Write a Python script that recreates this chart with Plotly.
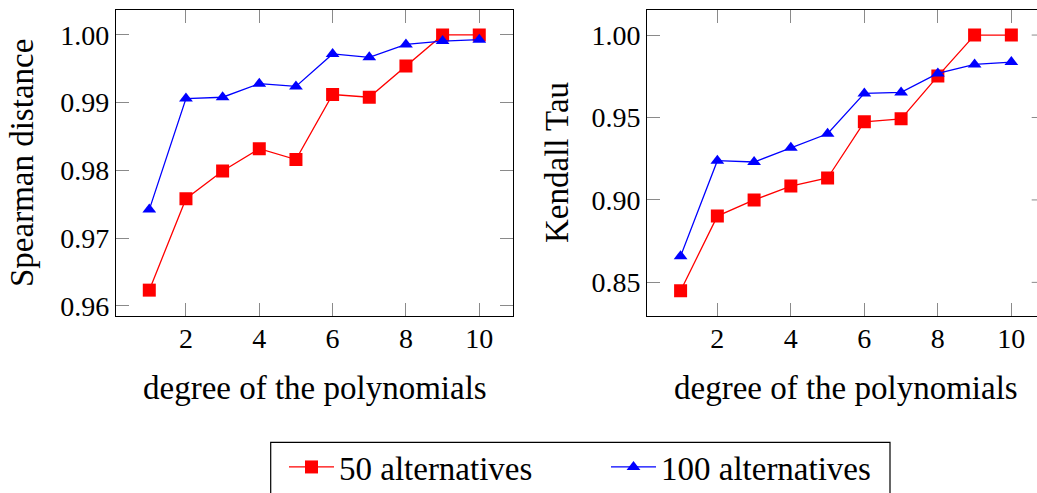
import plotly.graph_objects as go

degrees = [1, 2, 3, 4, 5, 6, 7, 8, 9, 10]

spearman_50 = [0.9623, 0.9758, 0.9799, 0.9832, 0.9816, 0.9912, 0.9908, 0.9954, 1.0000, 1.0000]
spearman_100 = [0.9742, 0.9906, 0.9908, 0.9928, 0.9924, 0.9972, 0.9967, 0.9986, 0.9991, 0.9993]

kendall_50 = [0.8449, 0.8902, 0.9000, 0.9084, 0.9133, 0.9474, 0.9492, 0.9751, 1.0000, 1.0000]
kendall_100 = [0.8659, 0.9238, 0.9230, 0.9317, 0.9401, 0.9646, 0.9652, 0.9767, 0.9822, 0.9836]

x_ticks = [2, 4, 6, 8, 10]
spearman_ticks = [0.96, 0.97, 0.98, 0.99, 1.00]
kendall_ticks = [0.85, 0.90, 0.95, 1.00]

series_names = ["50 alternatives", "100 alternatives"]

W, H = 1037, 493
FONT = "Liberation Serif"
RED = "#ff0000"
BLUE = "#0000ff"

fig = go.Figure()

red_style = dict(mode="lines+markers", line=dict(color=RED, width=1.3),
                 marker=dict(symbol="square", size=13, color=RED))
blue_style = dict(mode="lines+markers", line=dict(color=BLUE, width=1.3),
                  marker=dict(symbol="triangle-up", size=12, color=BLUE))

fig.add_trace(go.Scatter(x=degrees, y=spearman_50, name=series_names[0], xaxis="x", yaxis="y",
                         legendgroup="a", **red_style))
fig.add_trace(go.Scatter(x=degrees, y=spearman_100, name=series_names[1], xaxis="x", yaxis="y",
                         legendgroup="b", **blue_style))
fig.add_trace(go.Scatter(x=degrees, y=kendall_50, name=series_names[0], xaxis="x2", yaxis="y2",
                         legendgroup="a", showlegend=False, **red_style))
fig.add_trace(go.Scatter(x=degrees, y=kendall_100, name=series_names[1], xaxis="x2", yaxis="y2",
                         legendgroup="b", showlegend=False, **blue_style))

def px_x(p):
    return p / W

def px_y(p):
    return 1 - p / H

TICKC = "#8a8a8a"
common_axis = dict(showgrid=False, zeroline=False, showline=True, linecolor="black", linewidth=1.2,
                   ticks="inside", ticklen=13, tickwidth=1, tickcolor=TICKC,
                   tickfont=dict(family=FONT, size=28, color="black"))

top, bottom = 9.5, 316
fig.update_layout(
    width=W, height=H,
    margin=dict(l=0, r=0, t=0, b=0, autoexpand=False),
    paper_bgcolor="white", plot_bgcolor="white",
    xaxis=dict(domain=[px_x(116), px_x(513)], range=[0.092, 10.92], tickvals=x_ticks,
               mirror="ticks", anchor="y", ticklabelstandoff=-3, **common_axis),
    yaxis=dict(domain=[px_y(bottom), px_y(top)], range=[0.95848, 1.00376], tickvals=spearman_ticks,
               tickformat=".2f", mirror="ticks", anchor="x", ticklabelstandoff=0, **common_axis),
    xaxis2=dict(domain=[px_x(647.3), 1], range=[0.094, 10.698], tickvals=x_ticks,
                mirror="ticks", anchor="y2", ticklabelstandoff=-3, **common_axis),
    yaxis2=dict(domain=[px_y(bottom), px_y(top)], range=[0.8296, 1.0155], tickvals=kendall_ticks,
                tickformat=".2f", mirror=False, anchor="x2", ticklabelstandoff=0, **common_axis),
    showlegend=True,
    legend=dict(orientation="h", x=px_x(284), xanchor="left", y=px_y(467), yanchor="middle",
                font=dict(family=FONT, size=33, color="black"), bgcolor="rgba(0,0,0,0)",
                borderwidth=0, entrywidthmode="pixels", entrywidth=262, itemwidth=45,
                itemclick=False),
)

# right-side mirrored ticks of the clipped right panel
for t in kendall_ticks:
    fig.add_shape(type="line", xref="x2 domain", yref="y2", x0=(1031.7 - 647.3) / (W - 647.3), x1=1,
                  y0=t, y1=t, line=dict(color=TICKC, width=1))

# legend frame (clipped at the bottom as in the reference)
fig.add_shape(type="rect", xref="paper", yref="paper", x0=px_x(270.7), x1=px_x(890),
              y0=px_y(520), y1=px_y(442.3), line=dict(color="black", width=1.2), fillcolor="rgba(0,0,0,0)")

title_font = dict(family=FONT, size=33, color="black")
fig.add_annotation(text="degree of the polynomials", xref="paper", yref="paper", x=px_x(314.5), y=px_y(388),
                   xanchor="center", yanchor="middle", showarrow=False, font=title_font)
fig.add_annotation(text="degree of the polynomials", xref="paper", yref="paper", x=px_x(846), y=px_y(388),
                   xanchor="center", yanchor="middle", showarrow=False, font=title_font)
fig.add_annotation(text="Spearman distance", xref="paper", yref="paper", x=px_x(22), y=px_y(163),
                   xanchor="center", yanchor="middle", textangle=-90, showarrow=False, font=title_font)
fig.add_annotation(text="Kendall Tau", xref="paper", yref="paper", x=px_x(557), y=px_y(163),
                   xanchor="center", yanchor="middle", textangle=-90, showarrow=False, font=title_font)

fig.write_html("out.html", config={"displayModeBar": False},
               post_script="document.body.style.margin='0';document.body.style.overflow='hidden';")
